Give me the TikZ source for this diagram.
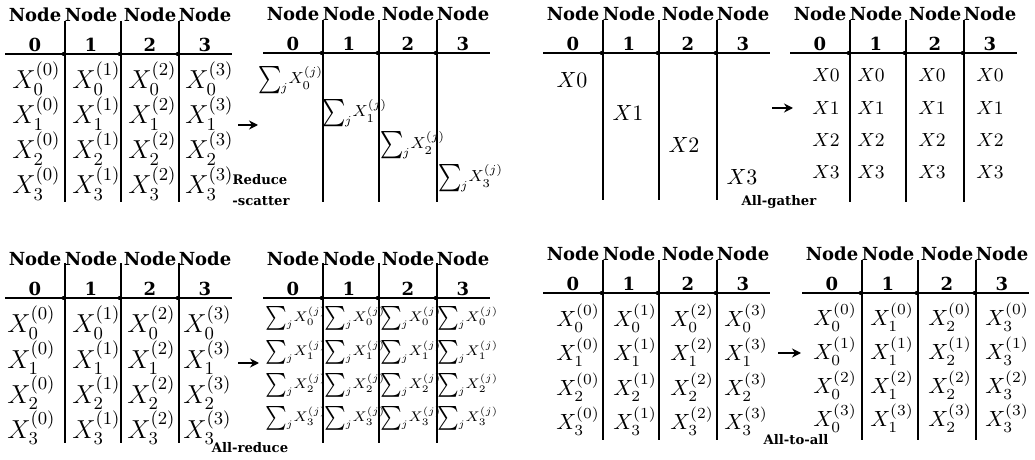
\RequirePackage{fix-cm}
\documentclass[tikz,border=0pt]{standalone}
\usepackage{amsmath}
\usepackage{graphicx}
\usepackage{fontspec}
\usepackage{tikz}
\usetikzlibrary{arrows.meta}
\newfontfamily\hdrfamily{DejaVu Serif}
\tikzstyle{hdr} = [font=\hdrfamily\bfseries\fontsize{9}{15}\selectfont, align=center, inner sep=0pt, anchor=south]
\tikzstyle{tag} = [font=\hdrfamily\bfseries\fontsize{6.6}{8}\selectfont, inner sep=0pt]
\tikzstyle{rule} = [line width=1.35pt]
\tikzstyle{arrow} = [line width=1.4pt, -{Stealth[length=4.5pt,width=4.5pt]}]
\tikzstyle{cellbig} = [font=\fontsize{13}{13}\selectfont, inner sep=0pt, anchor=base west]
\tikzstyle{cellmid} = [font=\fontsize{11}{11}\selectfont, inner sep=0pt]
\tikzstyle{cellsml} = [font=\fontsize{9.5}{10}\selectfont, inner sep=0pt]
\tikzstyle{cellsum} = [font=\fontsize{8}{9}\selectfont, inner sep=0pt, anchor=west]
\newcommand{\sumx}[1]{$\vcenter{\hbox{\scalebox{1.3}[1.7]{$\textstyle\sum$}}}\mkern-1mu\lower.45em\hbox{$\scriptstyle j$}\mkern1mu X_{#1}^{(j)}$}
% one block: rule, dividers and Node headers
% #1 name, #2 left, #3 rule y, #4 divider top, #5 divider bottom
\newcommand{\nodegrid}[5]{%
  \draw[rule] (#2,#3) -- ++(227,0);
  \foreach \k/\d in {1/60,2/116,3/174} {
    \draw[rule] (#2+\d,#4) -- (#2+\d,#5);
    \fill (#2+\d-1.5,#3) circle (1pt);
  }
  \foreach \k/\d in {0/30,1/86,2/145,3/200}
    \node[hdr] (#1-h\k) at (#2+\d,#3-2) {Node\\\k};
}

\begin{document}
\begin{tikzpicture}[x=0.5pt,y=-0.5pt]
\useasboundingbox (0,0) rectangle (1035,460);

% Reduce-scatter
\nodegrid{rsa}{5}{54}{21}{202}
\nodegrid{rsb}{263}{53}{20}{202}
\foreach \c/\cx in {0/12,1/72,2/128,3/185}
  \foreach \r/\ry in {0/89,1/124,2/159,3/194}
    \node[cellbig] (rsa-\c\r) at (\cx,\ry) {$X_{\r}^{(\c)}$};
\foreach \c/\cx/\cy in {0/258/80,1/322/113,2/380/145,3/438/178}
  \node[cellsum] (rsb-\c) at (\cx,\cy) {\sumx{\c}};
\coordinate (rs-from) at (238,125);
\coordinate (rs-to) at (258,125);
\draw[arrow] (rs-from) -- (rs-to);
\node[tag] (rs-tag) at (260,180) {Reduce};
\node[tag] (rs-tag2) at (261,201) {-scatter};

% All-gather
\nodegrid{aga}{543}{53}{20}{200}
\nodegrid{agb}{790}{53}{20}{202}
\foreach \c/\cx/\cy in {0/572/80,1/628/113,2/684/145,3/742/177}
  \node[cellmid] (aga-\c) at (\cx,\cy) {$X\c$};
\foreach \c/\cx in {0/826,1/871,2/932,3/990}
  \foreach \r/\ry in {0/75,1/108,2/140,3/172}
    \node[cellsml] (agb-\c\r) at (\cx,\ry) {$X\r$};
\coordinate (ag-from) at (772,108);
\coordinate (ag-to) at (793,108);
\draw[arrow] (ag-from) -- (ag-to);
\node[tag] (ag-tag) at (779,202) {All-gather};

% All-reduce
\nodegrid{ara}{5}{298}{263}{443}
\nodegrid{arb}{263}{298}{263}{443}
\foreach \c/\cx in {0/7,1/72,2/127,3/183}
  \foreach \r/\ry in {0/333,1/368,2/403,3/438}
    \node[cellbig] (ara-\c\r) at (\cx,\ry) {$X_{\r}^{(\c)}$};
\foreach \c/\cx in {0/265,1/324,2/380,3/437}
  \foreach \r/\ry in {0/318,1/352,2/385,3/418}
    \node[cellsum, font=\fontsize{7}{8}\selectfont] (arb-\c\r) at (\cx,\ry) {\sumx{\r}};
\coordinate (ar-from) at (238,363);
\coordinate (ar-to) at (259,363);
\draw[arrow] (ar-from) -- (ar-to);
\node[tag] (ar-tag) at (250,448) {All-reduce};

% All-to-all
\nodegrid{aaa}{543}{293}{260}{440}
\nodegrid{aab}{802}{293}{260}{440}
\foreach \c/\cx in {0/578,1/635,2/692,3/746}
  \foreach \r/\ry in {0/318,1/352,2/387,3/421}
    \node[cellmid] (aaa-\c\r) at (\cx,\ry) {$X_{\r}^{(\c)}$};
\foreach \c/\cx in {0/835,1/892,2/950,3/1007}
  \foreach \r/\ry in {0/317,1/351,2/385,3/418}
    \node[cellmid] (aab-\c\r) at (\cx,\ry) {$X_{\c}^{(\r)}$};
\coordinate (aa-from) at (778,353);
\coordinate (aa-to) at (801,353);
\draw[arrow] (aa-from) -- (aa-to);
\node[tag] (aa-tag) at (796,440) {All-to-all};
\end{tikzpicture}
\end{document}
